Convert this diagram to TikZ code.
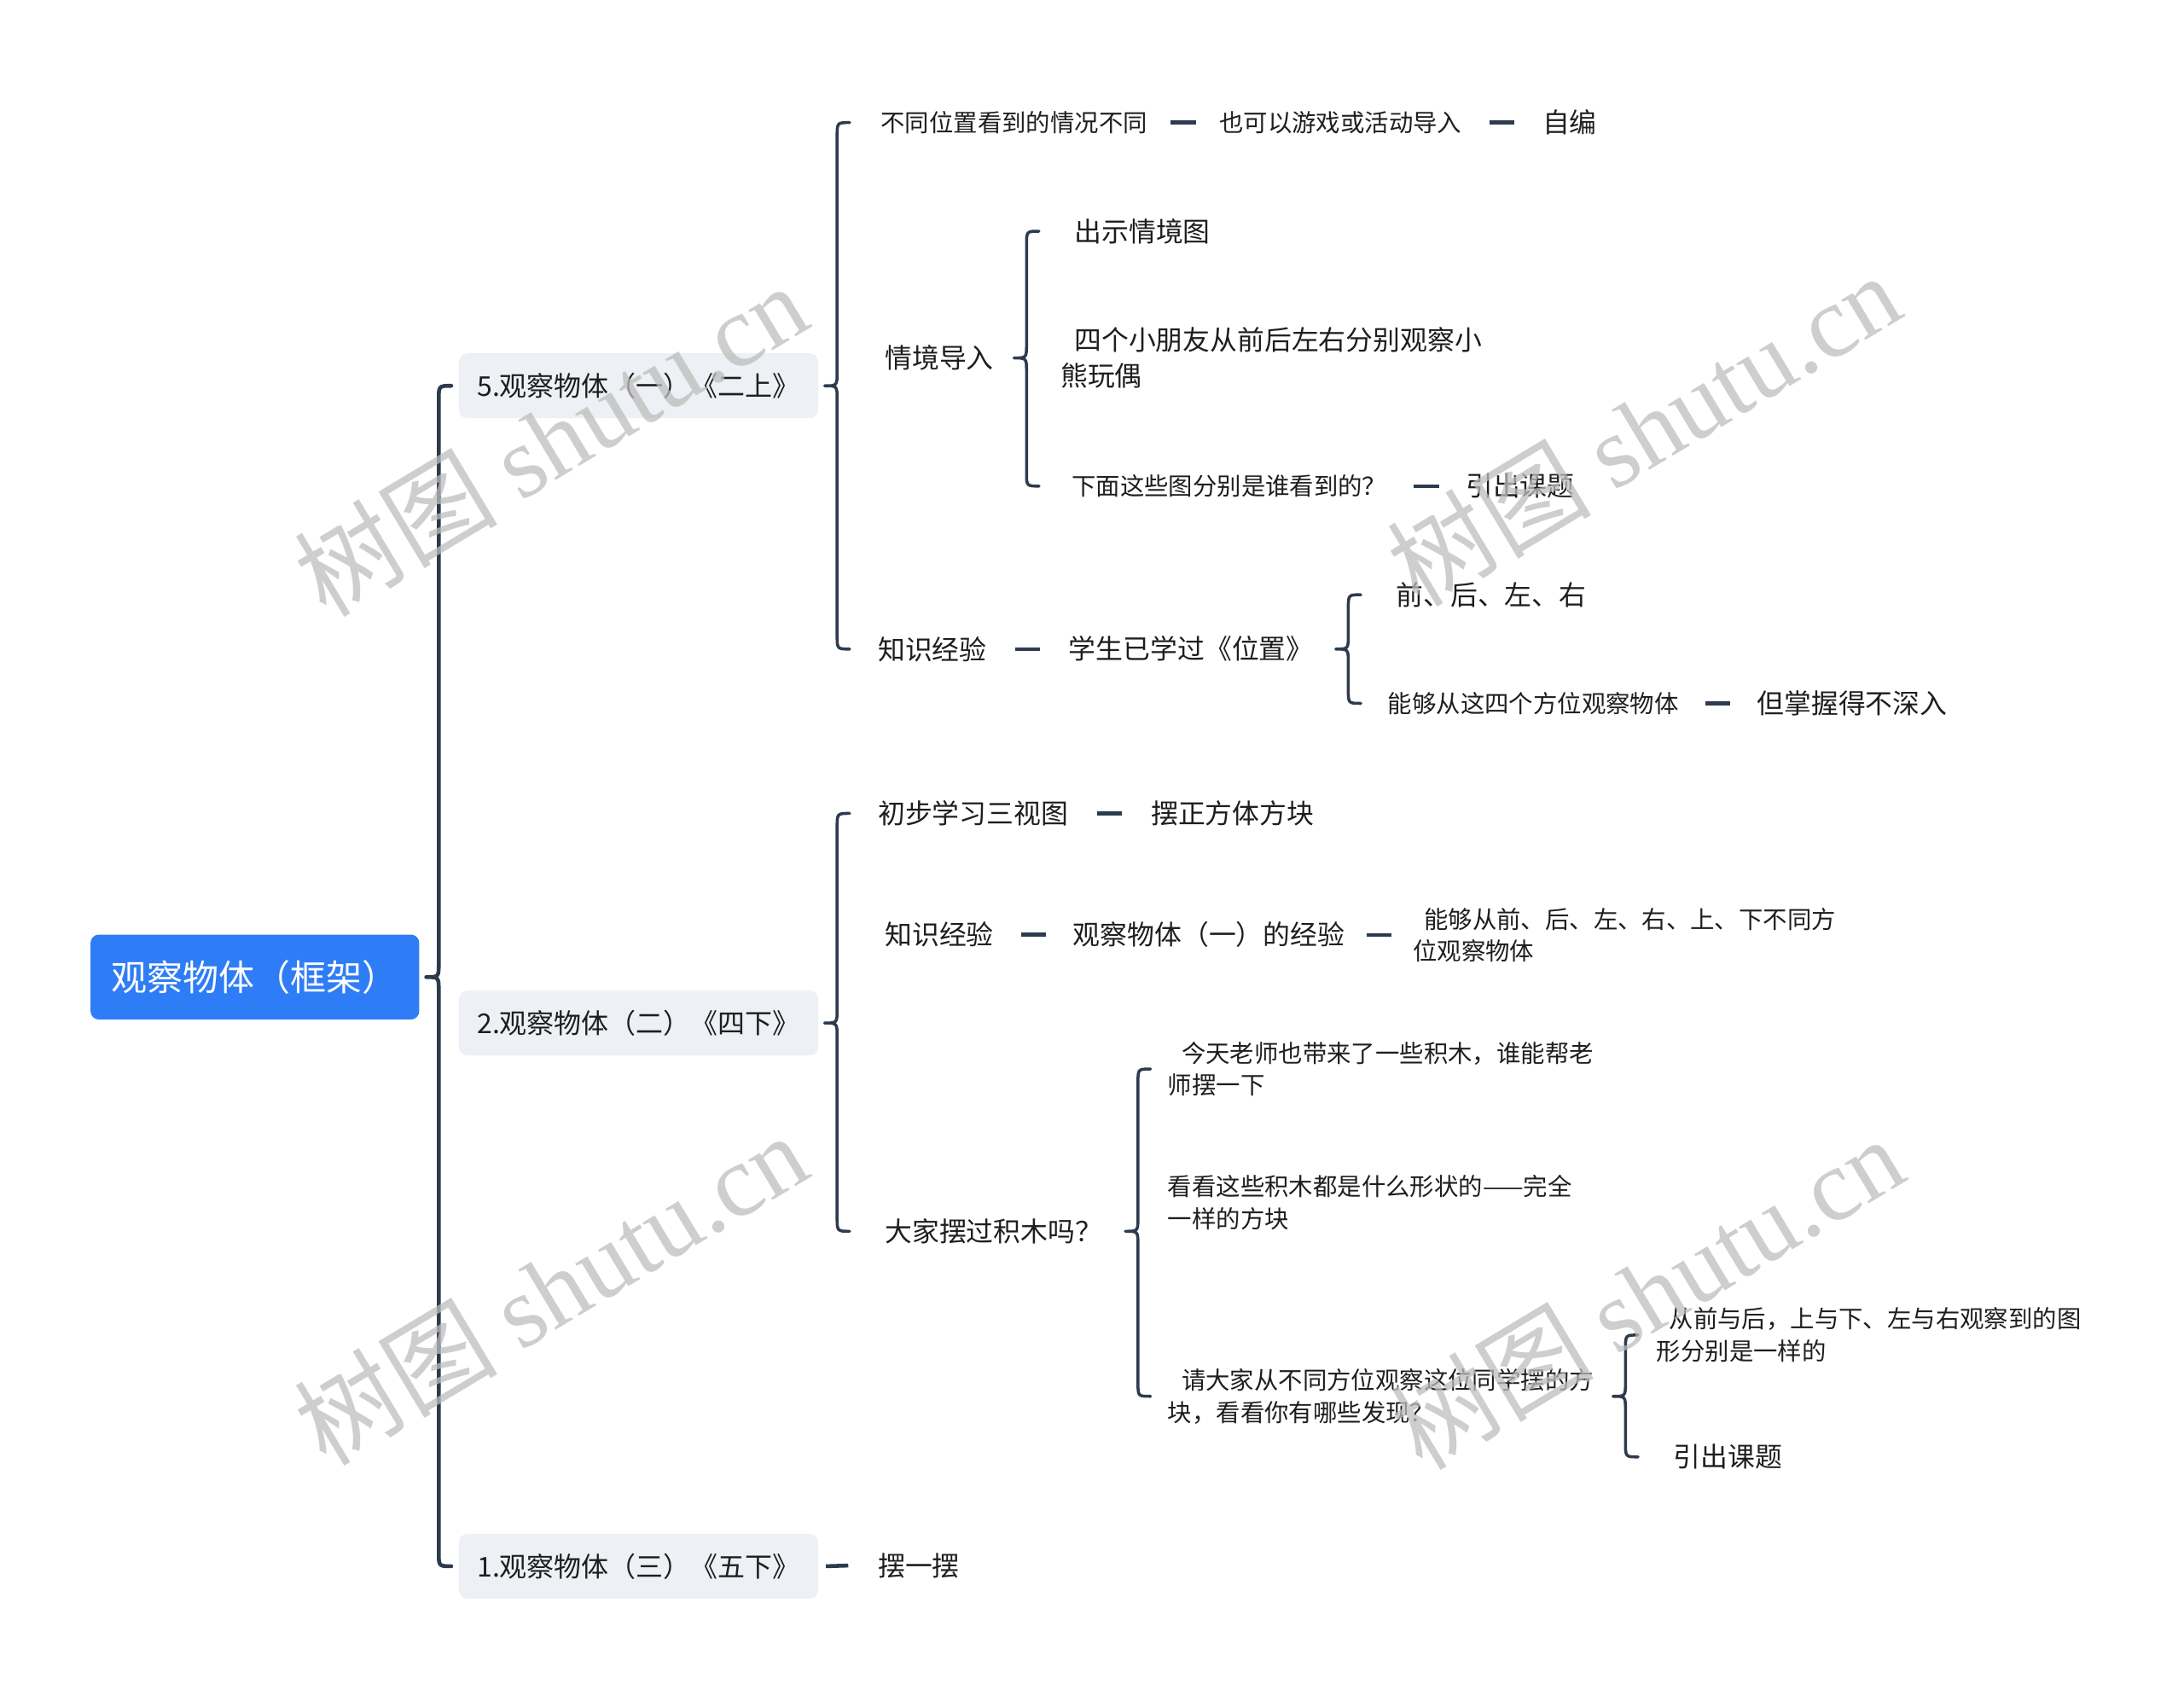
\documentclass[tikz,border=0pt]{standalone}
\usepackage{fontspec}
\setmainfont{Noto Sans CJK SC}
\newfontfamily\wmfont{Liberation Serif}
\usetikzlibrary{calc}
\definecolor{lnc}{HTML}{2D3B4E}
\definecolor{rootc}{HTML}{2F7DF6}
\definecolor{gbox}{HTML}{EDF0F4}
\definecolor{txt}{HTML}{1E1E1E}
\definecolor{wmc}{HTML}{BDBDBD}
\newcommand\drawbrc[5]{%
  \path (#2,0 |- #3.center) coordinate (bm) (#2,0 |- #4.west) coordinate (bt) (#2,0 |- #5.west) coordinate (bb);
  \draw[brc,#1] ($(bt)+(9,0)$) .. controls (bt) .. ($(bt)+(0,10)$) -- ($(bm)+(0,-10)$) .. controls (bm) .. ($(bm)+(-9,0)$) .. controls (bm) .. ($(bm)+(0,10)$) -- ($(bb)+(0,-10)$) .. controls (bb) .. ($(bb)+(9,0)$);}
\newcommand\dashc[2]{\draw[dsh] ($(#1.east)!0.5!(#2.west)+(-9,0)$) -- ($(#1.east)!0.5!(#2.west)+(9,0)$);}
\begin{document}
\begin{tikzpicture}[x=0.016327cm,y=-0.016327cm,
  big/.style={anchor=west,inner sep=0pt,font=\fontsize{9.06pt}{12.08pt}\selectfont,text=txt,align=left},
  sml/.style={anchor=west,inner sep=0pt,font=\fontsize{8.08pt}{10.68pt}\selectfont,text=txt,align=left},
  l1/.style={fill=gbox,rounded corners=2.8pt,minimum width=4.212cm,minimum height=0.76cm,inner sep=0pt,font=\fontsize{9.1pt}{12pt}\selectfont,text=txt},
  rootbox/.style={fill=rootc,rounded corners=2.8pt,minimum width=3.853cm,minimum height=0.996cm,inner sep=0pt,font=\fontsize{11.95pt}{14pt}\selectfont,text=white},
  brc/.style={draw=lnc,line width=1pt,line cap=round,line join=round},
  dsh/.style={draw=lnc,line width=1.3pt},
  wm/.style={rotate=31,text=wmc,opacity=0.75,font=\fontsize{34pt}{40pt}\selectfont,inner sep=0pt}]
\useasboundingbox (0,0) rectangle (1568,1213);
% root and level 1
\node[rootbox] (root) at (183,701.5) {观察物体（框架）};
\node[l1] (A) at (458.5,277) {5.观察物体（一）《二上》};
\node[l1] (B) at (458.5,734.5) {2.观察物体（二）《四下》};
\node[l1] (C) at (458.5,1124.5) {1.观察物体（三）《五下》};
\drawbrc{line width=1.3pt}{315}{root}{A}{C}
% A branch
\node[sml] (A1) at (632,88) {不同位置看到的情况不同};
\node[sml] (A1b) at (875,88) {也可以游戏或活动导入};
\node[big] (A1c) at (1107,88) {自编};
\node[big] (A2) at (635,257) {情境导入};
\node[big] (A21) at (771,166) {出示情境图};
\node[big] (A22) at (761,257) {\hspace*{4.6pt}四个小朋友从前后左右分别观察小\\熊玩偶};
\node[sml] (A23) at (769,349) {下面这些图分别是谁看到的？};
\node[big] (A23b) at (1052,349) {引出课题};
\node[big] (A3) at (630,466) {知识经验};
\node[big] (A3b) at (767,466) {学生已学过《位置》};
\node[big] (A31) at (1002,427) {前、后、左、右};
\node[sml] (A32) at (996,505) {能够从这四个方位观察物体};
\node[big] (A32b) at (1261,505) {但掌握得不深入};
\drawbrc{}{601}{A}{A1}{A3}
\drawbrc{}{737}{A2}{A21}{A23}
\drawbrc{}{968}{A3b}{A31}{A32}
\dashc{A1}{A1b}
\dashc{A1b}{A1c}
\dashc{A23}{A23b}
\dashc{A3}{A3b}
\dashc{A32}{A32b}
% B branch
\node[big] (B1) at (630,584) {初步学习三视图};
\node[big] (B1b) at (826,584) {摆正方体方块};
\node[big] (B2) at (635,671) {知识经验};
\node[big] (B2b) at (770,671) {观察物体（一）的经验};
\node[sml] (B2c) at (1014,671.5) {\hspace*{3.7pt}能够从前、后、左、右、上、下不同方\\位观察物体};
\node[big] (B3) at (635,884) {大家摆过积木吗？};
\node[sml] (B31) at (838,767.5) {\hspace*{4.6pt}今天老师也带来了一些积木，谁能帮老\\师摆一下};
\node[sml] (B32) at (838,863.5) {看看这些积木都是什么形状的——完全\\一样的方块};
\node[sml] (B33) at (838,1002.5) {\hspace*{4.6pt}请大家从不同方位观察这位同学摆的方\\块，看看你有哪些发现？};
\node[sml] (B331) at (1189,958.5) {\hspace*{4.2pt}从前与后，上与下、左与右观察到的图\\形分别是一样的};
\node[big] (B332) at (1201,1046) {引出课题};
\drawbrc{}{601}{B}{B1}{B3}
\drawbrc{}{817}{B3}{B31}{B33}
\drawbrc{}{1167}{B33}{B331}{B332}
\dashc{B1}{B1b}
\dashc{B2}{B2b}
\dashc{B2b}{B2c}
% C branch
\node[big] (C1) at (630,1124) {摆一摆};
\draw[dsh] ($(C.east)+(5,0)$) -- ($(C1.west)+(-21,0)$);
% watermarks (on top, translucent)
\foreach \wx/\wy [count=\i] in {395/315,1180/308,395/925,1182/928}
  \node[wm] (wm\i) at (\wx,\wy) {树图 {\wmfont shutu.cn}};
\end{tikzpicture}
\end{document}
